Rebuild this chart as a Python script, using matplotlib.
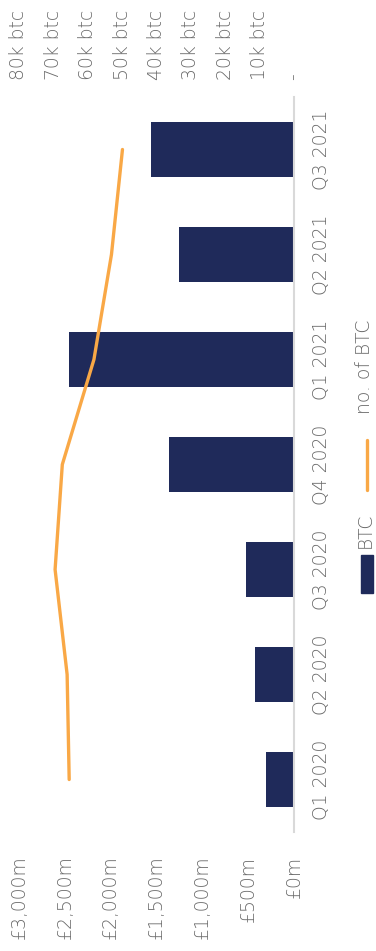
import matplotlib
matplotlib.use("Agg")
import matplotlib.pyplot as plt
from matplotlib.patches import Rectangle
from matplotlib.lines import Line2D
from matplotlib.ticker import FixedLocator

categories = ["Q1 2020", "Q2 2020", "Q3 2020", "Q4 2020", "Q1 2021", "Q2 2021", "Q3 2021"]
btc_value_m = [305, 430, 525, 1360, 2450, 1260, 1565]          # £m
btc_count_k = [65.4, 66.0, 69.5, 67.4, 58.2, 53.1, 49.9]      # thousand BTC
gbp_ticks = [0, 500, 1000, 1500, 2000, 2500, 3000]
gbp_labels = ["£0m", "£500m", "£1,000m", "£1,500m", "£2,000m", "£2,500m", "£3,000m"]
btc_ticks = [0, 10, 20, 30, 40, 50, 60, 70, 80]
btc_labels = ["-", "10k btc", "20k btc", "30k btc", "40k btc", "50k btc", "60k btc", "70k btc", "80k btc"]

W, H = 376, 951
NAVY = "#1f2a5a"
ORANGE = "#f9a846"
GREY = "#6a6a6a"
plt.rcParams["font.family"] = ["DejaVu Sans"]
FS = 13.5
FW = "light"

fig = plt.figure(figsize=(W / 100, H / 100), dpi=100)
fx = lambda x: x / W
fy = lambda y: 1 - y / H
ax = fig.add_axes([fx(19), fy(832), fx(294) - fx(19), fy(97) - fy(832)])

pos = list(range(len(categories)))
ax.barh(pos, btc_value_m, height=0.52, color=NAVY, zorder=2)
ax.set_xlim(3000, 0)
ax.set_ylim(-0.5, len(categories) - 0.5)

for s in ["top", "left", "bottom"]:
    ax.spines[s].set_visible(False)
ax.spines["right"].set_color("#d9d9d9")
ax.spines["right"].set_linewidth(1.5)

ax.yaxis.tick_right()
ax.set_yticks(pos)
ax.set_yticklabels(categories, rotation=90, va="center", ha="left",
                   fontsize=FS, color=GREY, fontweight=FW)
ax.tick_params(axis="y", length=0, pad=13)

ax.xaxis.set_major_locator(FixedLocator(gbp_ticks))
ax.set_xticklabels(gbp_labels, rotation=90, va="top", ha="center",
                   fontsize=FS, color=GREY, fontweight=FW)
ax.tick_params(axis="x", length=0, pad=17)

ax2 = ax.twiny()
ax2.plot(btc_count_k, pos, color=ORANGE, lw=2.4, solid_capstyle="round", zorder=3)
ax2.set_xlim(80, 0)
for s in ax2.spines.values():
    s.set_visible(False)
ax2.xaxis.set_major_locator(FixedLocator(btc_ticks))
ax2.set_xticklabels(btc_labels, rotation=90, va="bottom", ha="center",
                    fontsize=FS, color=GREY, fontweight=FW)
ax2.tick_params(axis="x", length=0, pad=12)

# legend (rotated)
fig.patches.append(Rectangle((fx(361), fy(593)), fx(373) - fx(361), fy(555) - fy(593),
                             transform=fig.transFigure, color=NAVY))
fig.text(fx(365), fy(530), "BTC", rotation=90, ha="center", va="center",
         fontsize=FS, color=GREY, fontweight=FW)
fig.lines.append(Line2D([fx(367), fx(367)], [fy(490), fy(440)], transform=fig.transFigure,
                        color=ORANGE, lw=2.4, solid_capstyle="round"))
fig.text(fx(364), fy(367), "no. of BTC", rotation=90, ha="center", va="center",
         fontsize=FS, color=GREY, fontweight=FW)

fig.savefig("out.png", dpi=100)
